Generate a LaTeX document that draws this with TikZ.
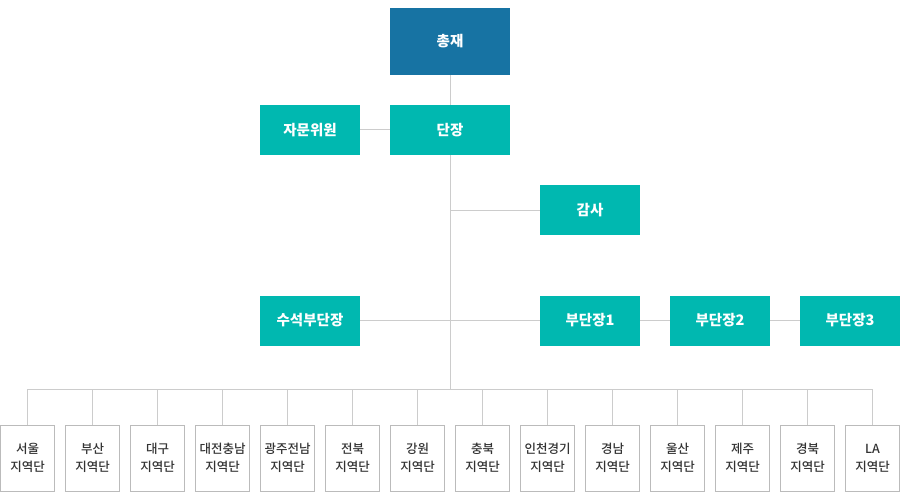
\documentclass[tikz,border=0pt]{standalone}
\usepackage{fontspec}
\setmainfont{Noto Sans CJK KR}
\newfontfamily\regionfont{Noto Sans CJK KR}[UprightFont={* Medium}]
\usetikzlibrary{positioning}
\definecolor{chairblue}{HTML}{1773A3}
\definecolor{tealbox}{HTML}{00B8B0}
\definecolor{linegray}{HTML}{CCCCCC}
\definecolor{boxgray}{HTML}{BBBBBB}
\definecolor{textgray}{HTML}{333333}
\tikzset{
  office/.style={fill=tealbox,text=white,font=\bfseries\fontsize{14.5}{16}\selectfont,
    minimum width=100pt,minimum height=50pt,inner sep=0pt},
  region/.style={draw=boxgray,line width=0.8pt,text=textgray,fill=white,
    font=\regionfont\fontsize{12.5}{18}\selectfont,align=center,
    minimum width=54pt,minimum height=66pt,inner sep=0pt},
  link/.style={draw=linegray,line width=1pt}
}
\begin{document}
\begin{tikzpicture}[x=1pt,y=-1pt]
  \useasboundingbox (0,0) rectangle (900,500);
  % top
  \node[office,fill=chairblue,minimum width=120pt,minimum height=67pt] (chair) at (450,41.5) {총재};
  \node[office,minimum width=120pt] (head) at (450,130) {단장};
  \node[office] (advisor) at (310,130) {자문위원};
  \node[office] (audit) at (590,210) {감사};
  % vice heads
  \node[office] (svice) at (310,320.5) {수석부단장};
  \node[office] (vice1) at (590,320.5) {부단장1};
  \node[office] (vice2) at (720,320.5) {부단장2};
  \node[office] (vice3) at (850,320.5) {부단장3};
  \coordinate (auditjoin) at (450,210);
  \coordinate (bus) at (450,389);
  \coordinate (busleft) at (27.5,389);
  \coordinate (busright) at (872.5,389);
  % lines
  \draw[link] (chair) -- (head);
  \draw[link] (advisor) -- (head);
  \draw[link] (head) -- (bus);
  \draw[link] (auditjoin) -- (audit);
  \draw[link] (svice) -- (vice1);
  \draw[link] (vice1) -- (vice2);
  \draw[link] (vice2) -- (vice3);
  \draw[link] (busleft) -- (busright);
  % regions
  \foreach \place [count=\i] in {서울,부산,대구,대전충남,광주전남,전북,강원,충북,인천경기,경남,울산,제주,경북,LA} {
    \node[region] (reg\i) at ({27.5+65*(\i-1)},458) {\place\\지역단};
    \draw[link] (reg\i.north |- bus) -- (reg\i);
  }
\end{tikzpicture}
\end{document}
